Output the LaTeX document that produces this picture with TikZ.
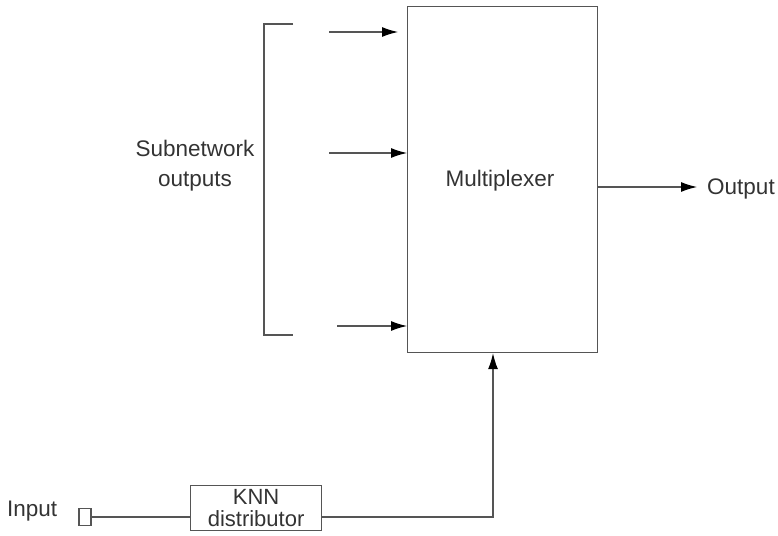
\documentclass[tikz,border=0pt]{standalone}
\usepackage{fontspec}
\setmainfont{Liberation Sans}
\usetikzlibrary{arrows.meta}
\definecolor{ln}{HTML}{555555}
\definecolor{tx}{HTML}{333333}
\begin{document}
\begin{tikzpicture}[x=1pt,y=-1pt,
  line/.style={draw=ln,line width=1.2pt},
  arr/.style={line,-{Latex[length=16pt,width=10pt,color=black]}},
  lbl/.style={text=tx,font=\fontsize{22.5}{30}\selectfont,inner sep=0pt}]
\useasboundingbox (0,0) rectangle (778,535);
\node[line,minimum width=190,minimum height=346,inner sep=0pt,anchor=north west] (mux) at (407,6) {};
\node[lbl] (muxt) at (500,181) {Multiplexer};
\draw[line] (293,24) -- (264,24) -- (264,335) -- (293,335);
\node[lbl,align=center] (sub) at (195,166) {Subnetwork\\outputs};
\coordinate (a1) at (329,32);
\coordinate (a1e) at (398,32);
\coordinate (a2) at (329,153);
\coordinate (a3) at (337,326);
\draw[arr] (a1) -- (a1e);
\draw[arr] (a2) -- (a2 -| mux.west);
\draw[arr] (a3) -- (a3 -| mux.west);
\coordinate (outp) at (697,187);
\draw[arr] (mux.east |- outp) -- (outp);
\node[lbl,anchor=west] (outt) at (707,189) {Output};
\node[line,minimum width=131,minimum height=45,inner sep=0pt,anchor=north west,align=center,text=tx,font=\fontsize{22}{22}\selectfont] (knn) at (190,485) {KNN\\distributor};
\node[line,minimum width=12,minimum height=17,inner sep=0pt] (inb) at (85,517) {};
\node[lbl,anchor=west] (int) at (7,511) {Input};
\draw[line] (inb.east) -- (knn.west |- inb.east);
\coordinate (c) at (493,517);
\draw[arr] (knn.east |- c) -- (c) -- (c |- mux.south);
\end{tikzpicture}
\end{document}
